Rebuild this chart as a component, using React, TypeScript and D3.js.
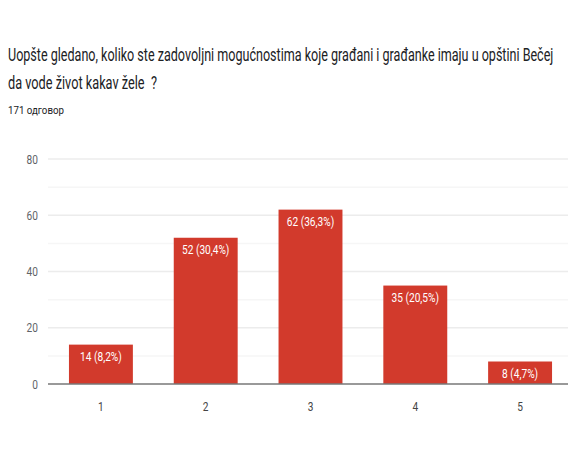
import React, { useLayoutEffect, useRef, useState } from 'react'
import * as d3 from 'd3'

const categories = ['1', '2', '3', '4', '5']
const counts = [14, 52, 62, 35, 8]
const percents = ['8,2%', '30,4%', '36,3%', '20,5%', '4,7%']
const yTicks = [0, 20, 40, 60, 80]
const minorTicks = [10, 30, 50, 70]

const titleLines = [
  'Uopšte gledano, koliko ste zadovoljni mogućnostima koje građani i građanke imaju u opštini Bečej',
  'da vode život kakav žele  ?',
]
const subtitle = '171 одговор'

const W = 568
const H = 468
const font = 'Roboto, "Liberation Sans", sans-serif'
// the source screenshot is squeezed sideways, so labels are narrowed a bit
const squeeze = 0.78

// text squeezed horizontally to a given width
function FitText({ x, y, width, size, text }: { x: number; y: number; width: number; size: number; text: string }) {
  const ref = useRef<SVGTextElement | null>(null)
  const [k, setK] = useState(squeeze)
  useLayoutEffect(() => {
    if (!ref.current) return
    const len = ref.current.getComputedTextLength()
    if (len > 0) setK(width / len)
  }, [text, width])
  return (
    <text
      ref={ref}
      transform={`translate(${x},${y}) scale(${k},1)`}
      fontSize={size}
      fill="#202124"
      style={{ whiteSpace: 'pre' }}
    >
      {text}
    </text>
  )
}

export default function App() {
  const x = d3.scaleBand<string>().domain(categories).range([48, 573]).paddingInner(0.39).paddingOuter(0.2)
  const y = d3.scaleLinear().domain([0, 80]).range([384, 159])

  return (
    <svg
      width={W}
      height={H}
      style={{ position: 'absolute', left: 0, top: 0, background: '#fff' }}
      fontFamily={font}
    >
      <FitText x={8} y={61} width={545} size={18} text={titleLines[0]} />
      <FitText x={8} y={89} width={149} size={18} text={titleLines[1]} />
      <FitText x={8} y={114} width={56} size={11} text={subtitle} />

      {minorTicks.map((t) => (
        <line key={'m' + t} x1={48} x2={W} y1={y(t)} y2={y(t)} stroke="#f6f6f6" strokeWidth={1.5} />
      ))}
      {yTicks.slice(1).map((t) => (
        <line key={'g' + t} x1={48} x2={W} y1={y(t)} y2={y(t)} stroke="#ececec" strokeWidth={1.5} />
      ))}
      {yTicks.map((t) => (
        <text
          key={'t' + t}
          transform={`translate(38,${y(t) + 4.5}) scale(${squeeze},1)`}
          fontSize={13}
          fill="#5f6368"
          textAnchor="end"
        >
          {t}
        </text>
      ))}

      {categories.map((c, i) => {
        const bx = x(c) as number
        const by = y(counts[i])
        const cx = bx + x.bandwidth() / 2
        return (
          <g key={c}>
            <rect x={bx} y={by} width={x.bandwidth()} height={y(0) - by} fill="#d23a2c" />
            <text
              transform={`translate(${cx},${by + 16}) scale(${squeeze},1)`}
              fontSize={13}
              fill="#fff"
              textAnchor="middle"
            >
              {`${counts[i]} (${percents[i]})`}
            </text>
            <text
              transform={`translate(${cx},${411}) scale(${squeeze},1)`}
              fontSize={13}
              fill="#444"
              textAnchor="middle"
            >
              {c}
            </text>
          </g>
        )
      })}

      <line x1={48} x2={W} y1={y(0)} y2={y(0)} stroke="#777" strokeWidth={1.5} />
    </svg>
  )
}
